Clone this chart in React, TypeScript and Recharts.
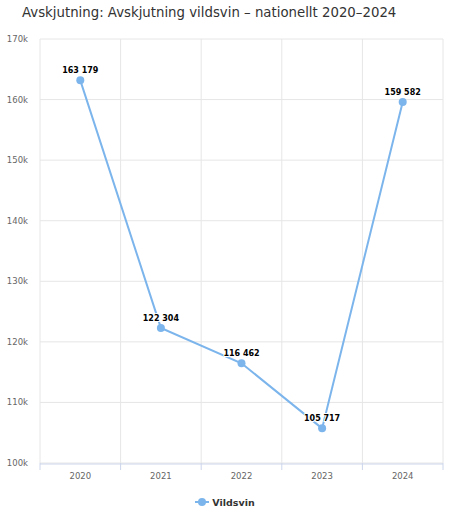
import { LineChart, Line, XAxis, YAxis, CartesianGrid, LabelList } from "recharts";

const YEARS = ["2020", "2021", "2022", "2023", "2024"];
const VILDSVIN = [163179, 122304, 116462, 105717, 159582];
const Y_TICKS = [100000, 110000, 120000, 130000, 140000, 150000, 160000, 170000];
const BOUNDS = [0, 1, 2, 3, 4, 5];
const CENTERS = [0.5, 1.5, 2.5, 3.5, 4.5];

const data = YEARS.map((year, i) => ({ year, idx: i + 0.5, value: VILDSVIN[i] }));

const FONT = "'DejaVu Sans', Verdana, sans-serif";
const BLUE = "#7cb5ec";

const fmt = (v: number) => String(v).replace(/\B(?=(\d{3})+(?!\d))/g, " ");

const renderLabel = ({ x, y, value }: any) => (
  <text
    x={x}
    y={y - 7}
    textAnchor="middle"
    fontFamily={FONT}
    fontSize={8}
    fontWeight="bold"
    fill="#000"
    stroke="#fff"
    strokeWidth={2}
    paintOrder="stroke"
  >
    {fmt(value)}
  </text>
);

const App = () => {
  return (
    <div style={{ position: "absolute", left: 0, top: 0, width: 450, height: 525, background: "#fff" }}>
      <div
        style={{
          position: "absolute",
          left: 22,
          top: 5,
          fontFamily: FONT,
          fontSize: 13.3,
          color: "#333",
          whiteSpace: "nowrap",
        }}
      >
        Avskjutning: Avskjutning vildsvin – nationellt 2020–2024
      </div>
      <LineChart width={450} height={525} data={data} margin={{ top: 39, right: 7, bottom: 0, left: 0 }}>
        <CartesianGrid stroke="#e6e6e6" xAxisId="bounds" />
        <XAxis
          xAxisId="years"
          dataKey="idx"
          type="number"
          domain={[0, 5]}
          ticks={CENTERS}
          height={61}
          axisLine={{ stroke: "#ccd6eb" }}
          tickLine={false}
          tickMargin={3}
          tickFormatter={(v: number) => YEARS[Math.floor(v)]}
          tick={{ fontFamily: FONT, fontSize: 8.5, fill: "#666" }}
        />
        <XAxis
          xAxisId="bounds"
          dataKey="idx"
          type="number"
          domain={[0, 5]}
          ticks={BOUNDS}
          height={1}
          axisLine={false}
          tickLine={{ stroke: "#ccd6eb" }}
          tickSize={7}
          tick={() => <g />}
        />
        <YAxis
          width={40}
          domain={[100000, 170000]}
          ticks={Y_TICKS}
          axisLine={false}
          tickLine={false}
          tickMargin={6}
          tickFormatter={(v: number) => `${v / 1000}k`}
          tick={{ fontFamily: FONT, fontSize: 8.5, fill: "#666" }}
        />
        {/* invisible series so the boundary axis gets its ticks and grid */}
        <Line
          xAxisId="bounds"
          dataKey="value"
          stroke="none"
          dot={false}
          activeDot={false}
          legendType="none"
          isAnimationActive={false}
        />
        <Line
          xAxisId="years"
          dataKey="value"
          stroke={BLUE}
          strokeWidth={2}
          dot={{ r: 4, fill: BLUE, stroke: BLUE, strokeWidth: 0 }}
          isAnimationActive={false}
        >
          <LabelList dataKey="value" content={renderLabel} />
        </Line>
      </LineChart>
      <div
        style={{
          position: "absolute",
          top: 496,
          left: 0,
          width: 450,
          display: "flex",
          justifyContent: "center",
          alignItems: "center",
          fontFamily: FONT,
          fontSize: 9.5,
          fontWeight: "bold",
          color: "#333",
        }}
      >
        <svg width={14} height={12} style={{ marginRight: 3 }}>
          <line x1={0} y1={6} x2={14} y2={6} stroke={BLUE} strokeWidth={2} />
          <circle cx={7} cy={6} r={4} fill={BLUE} />
        </svg>
        Vildsvin
      </div>
    </div>
  );
};

export default App;
